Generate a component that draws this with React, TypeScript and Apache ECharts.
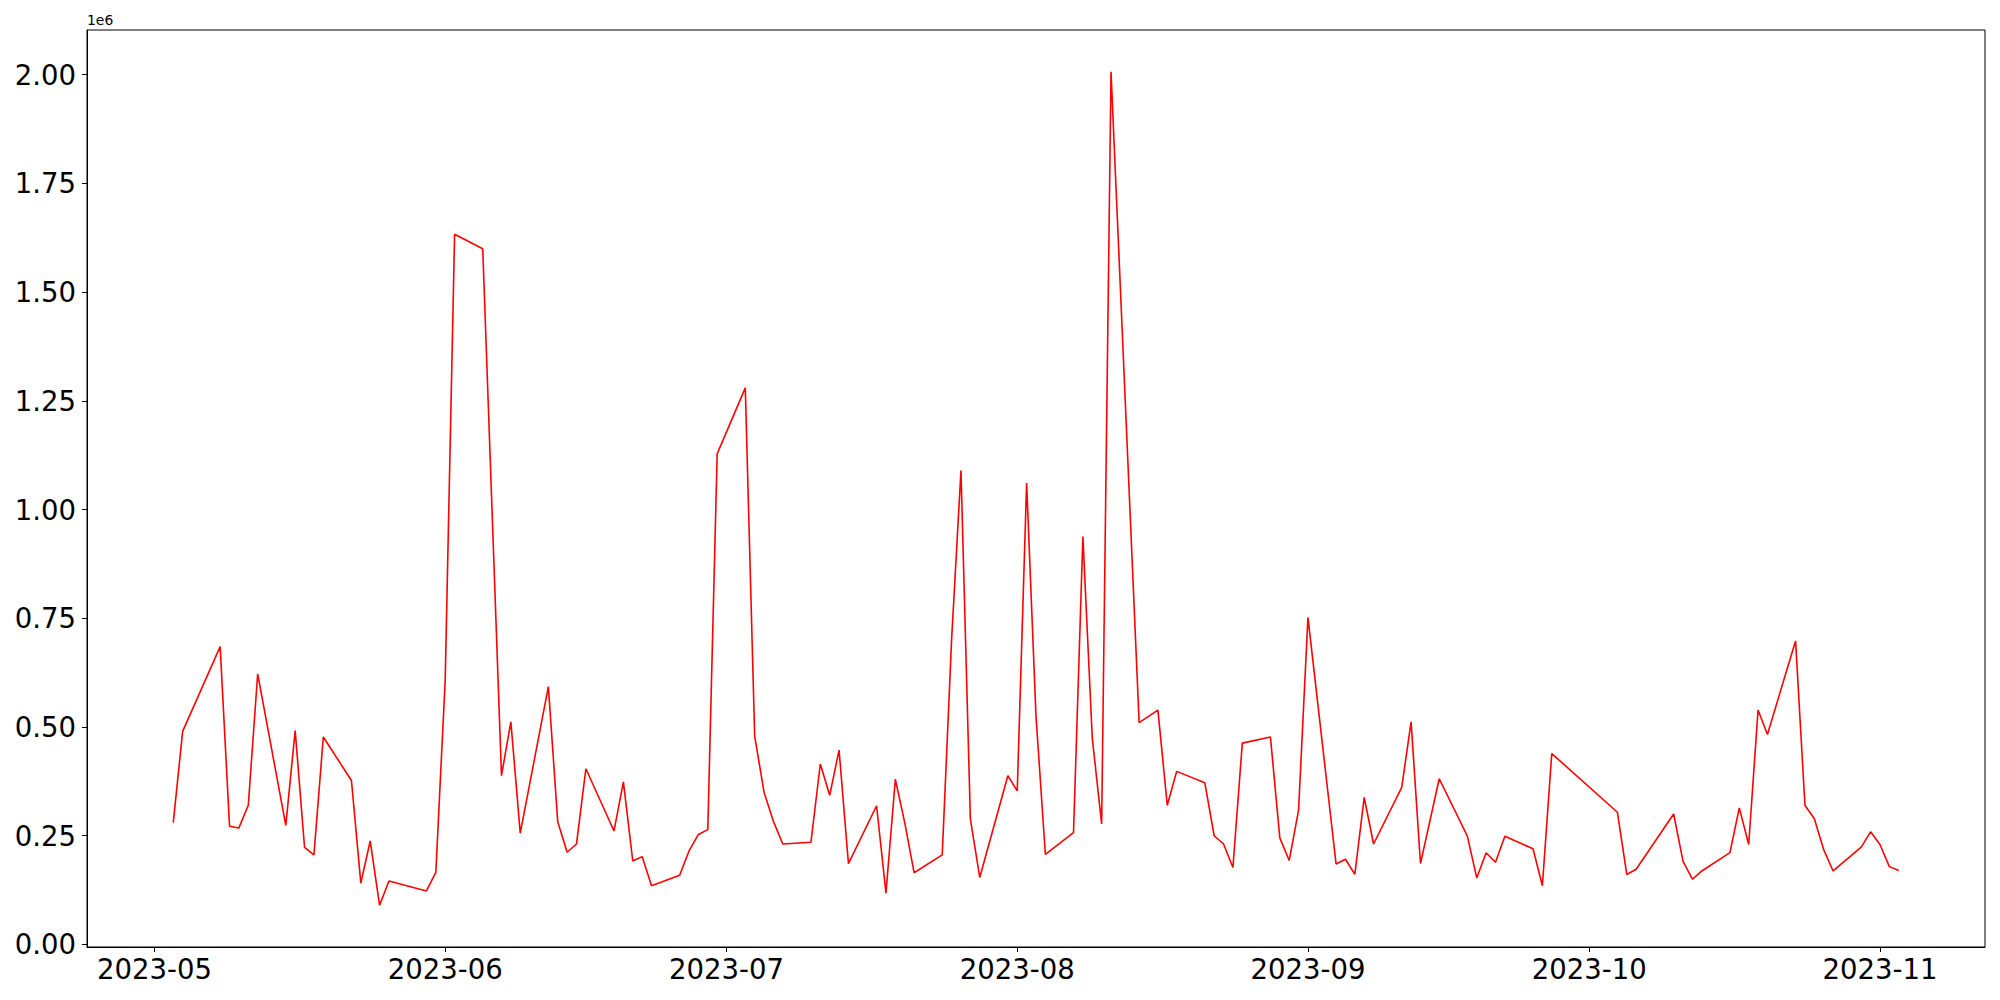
import React, { useEffect, useRef } from "react";
import * as echarts from "echarts";

const dates: string[] = [
  "2023-05-03","2023-05-04","2023-05-08","2023-05-09","2023-05-10","2023-05-11","2023-05-12",
  "2023-05-15","2023-05-16","2023-05-17","2023-05-18","2023-05-19",
  "2023-05-22","2023-05-23","2023-05-24","2023-05-25","2023-05-26",
  "2023-05-30","2023-05-31","2023-06-01","2023-06-02",
  "2023-06-05","2023-06-07","2023-06-08","2023-06-09",
  "2023-06-12","2023-06-13","2023-06-14","2023-06-15","2023-06-16",
  "2023-06-19","2023-06-20","2023-06-21","2023-06-22","2023-06-23",
  "2023-06-26","2023-06-27","2023-06-28","2023-06-29","2023-06-30",
  "2023-07-03","2023-07-04","2023-07-05","2023-07-06","2023-07-07",
  "2023-07-10","2023-07-11","2023-07-12","2023-07-13","2023-07-14",
  "2023-07-17","2023-07-18","2023-07-19","2023-07-20","2023-07-21",
  "2023-07-24","2023-07-25","2023-07-26","2023-07-27","2023-07-28",
  "2023-07-31","2023-08-01","2023-08-02","2023-08-03","2023-08-04",
  "2023-08-07","2023-08-08","2023-08-09","2023-08-10","2023-08-11",
  "2023-08-14","2023-08-16","2023-08-17","2023-08-18",
  "2023-08-21","2023-08-22","2023-08-23","2023-08-24","2023-08-25",
  "2023-08-28","2023-08-29","2023-08-30","2023-08-31","2023-09-01",
  "2023-09-04","2023-09-05","2023-09-06","2023-09-07","2023-09-08",
  "2023-09-11","2023-09-12","2023-09-13","2023-09-15",
  "2023-09-18","2023-09-19","2023-09-20","2023-09-21","2023-09-22",
  "2023-09-25","2023-09-26","2023-09-27",
  "2023-10-04","2023-10-05","2023-10-06",
  "2023-10-10","2023-10-11","2023-10-12","2023-10-13",
  "2023-10-16","2023-10-17","2023-10-18","2023-10-19","2023-10-20",
  "2023-10-23","2023-10-24","2023-10-25","2023-10-26","2023-10-27",
  "2023-10-30","2023-10-31","2023-11-01","2023-11-02","2023-11-03",
];

const values: number[] = [
  280000, 490000, 685000, 272000, 268000, 320000, 622000,
  274000, 492000, 223000, 206000, 477000,
  377000, 141000, 238000, 90000, 146000,
  123000, 166000, 609000, 1633000,
  1600000, 388000, 512000, 256000,
  593000, 282000, 212000, 231000, 404000,
  261000, 374000, 192000, 202000, 135000,
  159000, 215000, 253000, 264000, 1128000,
  1280000, 479000, 350000, 283000, 231000,
  235000, 415000, 343000, 447000, 186000,
  319000, 118000, 380000, 280000, 165000,
  206000, 701000, 1090000, 289000, 154000,
  388000, 353000, 1061000, 525000, 207000,
  257000, 938000, 475000, 277000, 2007000,
  510000, 539000, 320000, 398000,
  372000, 250000, 231000, 177000, 463000,
  477000, 245000, 193000, 309000, 752000,
  185000, 196000, 161000, 338000, 231000,
  361000, 512000, 186000, 381000,
  249000, 153000, 211000, 189000, 249000,
  220000, 135000, 439000,
  304000, 161000, 173000,
  300000, 191000, 150000, 169000,
  211000, 314000, 230000, 539000, 483000,
  698000, 320000, 289000, 218000, 169000,
  224000, 259000, 230000, 179000, 170000,
];

const monthTicks: string[] = ["2023-05-01", "2023-06-01", "2023-07-01", "2023-08-01", "2023-09-01", "2023-10-01", "2023-11-01"];
const yTicks: number[] = [0, 250000, 500000, 750000, 1000000, 1250000, 1500000, 1750000, 2000000];

const toTs = (s: string) => {
  const [y, m, d] = s.split("-").map(Number);
  return Date.UTC(y, m - 1, d);
};

const FONT = "DejaVu Sans";

export default function App() {
  const ref = useRef<HTMLDivElement>(null);
  useEffect(() => {
    if (!ref.current) return;
    const chart = echarts.init(ref.current, undefined, { renderer: "svg" });
    const xs = dates.map(toTs);
    const xSpan = xs[xs.length - 1] - xs[0];
    const xMin = xs[0] - 0.05 * xSpan;
    const xMax = xs[xs.length - 1] + 0.05 * xSpan;
    const vMin = Math.min(...values);
    const vMax = Math.max(...values);
    const vr = vMax - vMin;
    const yMin = vMin - 0.05 * vr;
    const yMax = vMax + 0.05 * vr;
    const tickTs = monthTicks.map(toTs);

    chart.setOption({
      animation: false,
      backgroundColor: "#ffffff",
      grid: {
        left: 87,
        top: 30,
        right: 15,
        bottom: 53,
        show: true,
        borderColor: "#000000",
        borderWidth: 1,
        backgroundColor: "transparent",
      },
      xAxis: {
        type: "value",
        min: xMin,
        max: xMax,
        splitLine: { show: false },
        axisLine: { show: true, onZero: false, lineStyle: { color: "#000", width: 1 } },
        axisTick: { show: true, length: 5, customValues: tickTs, lineStyle: { color: "#000", width: 1 } },
        axisLabel: {
          customValues: tickTs,
          margin: 8,
          color: "#000",
          fontFamily: FONT,
          fontSize: 27.5,
          formatter: (v: number) => {
            const d = new Date(v);
            return `${d.getUTCFullYear()}-${String(d.getUTCMonth() + 1).padStart(2, "0")}`;
          },
        },
      },
      yAxis: {
        type: "value",
        min: yMin,
        max: yMax,
        splitLine: { show: false },
        axisLine: { show: true, onZero: false, lineStyle: { color: "#000", width: 1 } },
        axisTick: { show: true, length: 5, customValues: yTicks, lineStyle: { color: "#000", width: 1 } },
        axisLabel: {
          customValues: yTicks,
          margin: 11,
          color: "#000",
          fontFamily: FONT,
          fontSize: 27.5,
          formatter: (v: number) => (v / 1e6).toFixed(2),
        },
      },
      graphic: [
        {
          type: "text",
          left: 87,
          top: 13,
          style: { text: "1e6", fontFamily: FONT, fontSize: 13.9, fill: "#000" },
        },
      ],
      series: [
        {
          type: "line",
          data: xs.map((x, i) => [x, values[i]]),
          showSymbol: false,
          symbol: "none",
          lineStyle: { color: "#ff0000", width: 1.6 },
        },
      ],
    });
    return () => chart.dispose();
  }, []);
  return (
    <div
      ref={ref}
      style={{ position: "fixed", left: 0, top: 0, width: 2000, height: 1000, background: "#fff" }}
    />
  );
}
